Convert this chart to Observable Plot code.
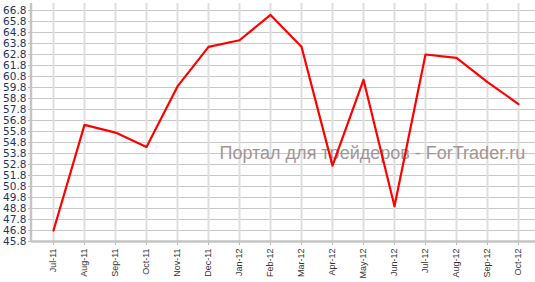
<!DOCTYPE html>
<html>
<head>
<meta charset="utf-8">
<script src="https://cdn.jsdelivr.net/npm/d3@7"></script>
<script src="https://cdn.jsdelivr.net/npm/@observablehq/plot@0.6"></script>
<style>
  html, body { margin: 0; padding: 0; background: #fff; }
  #chart svg { display: block; }
</style>
</head>
<body>
<div id="chart"></div>
<script>
const months = ["Jul-11","Aug-11","Sep-11","Oct-11","Nov-11","Dec-11","Jan-12","Feb-12","Mar-12","Apr-12","May-12","Jun-12","Jul-12","Aug-12","Sep-12","Oct-12"];
const values = [46.8, 56.4, 55.7, 54.4, 59.9, 63.5, 64.1, 66.4, 63.5, 52.7, 60.5, 49.0, 62.8, 62.5, 60.3, 58.3];
const yTicks = [45.8,46.8,47.8,48.8,49.8,50.8,51.8,52.8,53.8,54.8,55.8,56.8,57.8,58.8,59.8,60.8,61.8,62.8,63.8,64.8,65.8,66.8];
const watermark = ["Портал для трейдеров - ForTrader.ru"];

const data = months.map((m, i) => ({month: m, value: values[i]}));

const leftAxisLine = (index, scales, values, dimensions) => {
  const ns = "http://www.w3.org/2000/svg";
  const l = document.createElementNS(ns, "line");
  const x = dimensions.marginLeft;
  l.setAttribute("x1", x); l.setAttribute("x2", x);
  l.setAttribute("y1", dimensions.marginTop);
  l.setAttribute("y2", dimensions.height - dimensions.marginBottom + 1);
  l.setAttribute("stroke", "#c4c4c4");
  l.setAttribute("stroke-width", 2.5);
  return l;
};

const chart = Plot.plot({
  width: 535,
  height: 282,
  marginLeft: 31,
  marginRight: 0,
  marginTop: 3,
  marginBottom: 41,
  style: {fontFamily: "DejaVu Sans", background: "#fff"},
  x: {type: "point", domain: months, padding: 0.457, align: 0.576},
  y: {domain: [45.8, 67.44], ticks: yTicks},
  marks: [
    Plot.ruleY(yTicks, {stroke: "#c8c8c8", strokeWidth: 1}),
    Plot.ruleX(months, {stroke: "#dedede", strokeWidth: 2}),
    Plot.text(watermark, {frameAnchor: "top-left", dx: 188, dy: 143, textAnchor: "start", fill: "#a09696", fontSize: 18, fontFamily: "Liberation Sans"}),
    Plot.axisY({ticks: yTicks, tickFormat: d => d.toFixed(1), tickSize: 3, tickPadding: 2, fontSize: 10.5, fill: "#1d3560", stroke: "#bbb", label: null}),
    Plot.axisX({tickSize: 4, tickPadding: 3, tickRotate: -90, fontSize: 9, fontFamily: "Liberation Sans", fill: "#333", stroke: "#bbb", label: null}),
    leftAxisLine,
    Plot.ruleY([45.8], {stroke: "#c4c4c4", strokeWidth: 2.5}),
    Plot.line(data, {x: "month", y: "value", stroke: "#ff0000", strokeWidth: 2.2})
  ]
});
document.getElementById("chart").appendChild(chart);
</script>
</body>
</html>
